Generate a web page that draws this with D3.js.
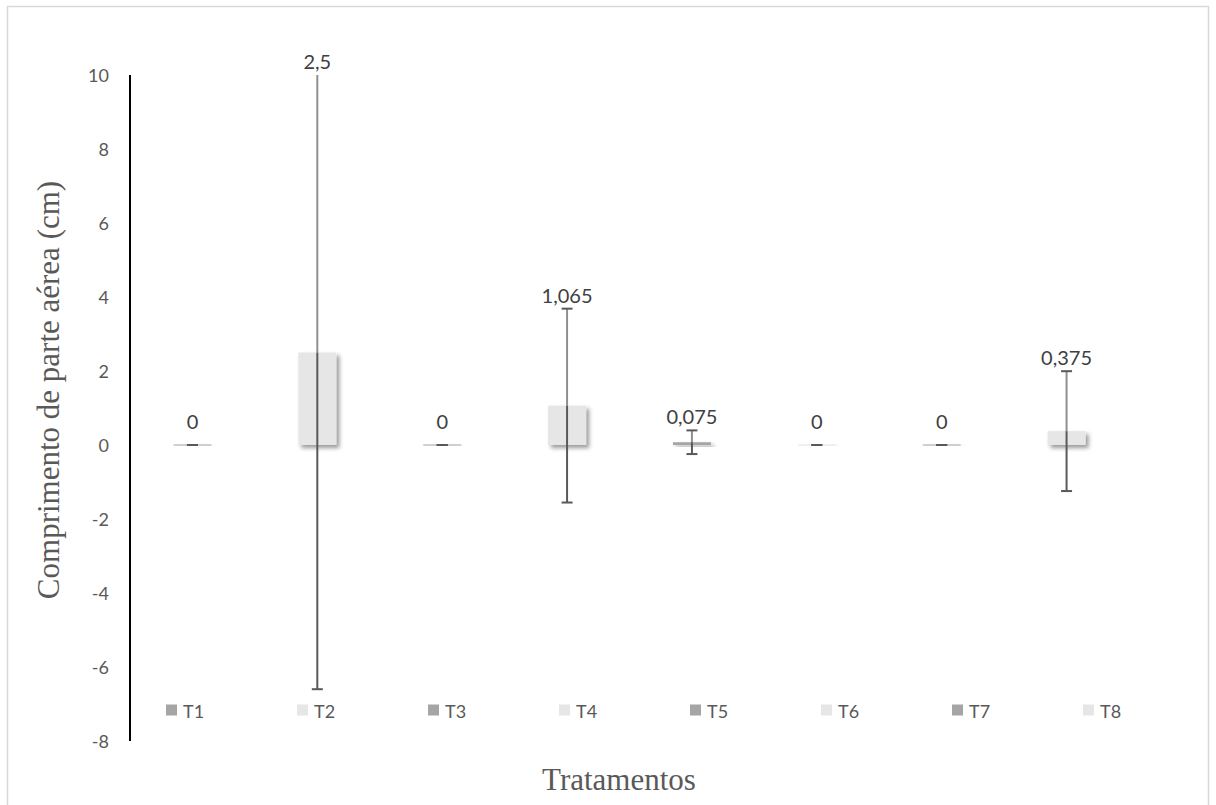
<!DOCTYPE html>
<html><head><meta charset="utf-8">
<script src="https://cdn.jsdelivr.net/npm/d3@7"></script>
<style>body{margin:0;background:#fff}svg{display:block}</style>
</head><body>
<script>
const categories = ["T1","T2","T3","T4","T5","T6","T7","T8"];
const means = [0, 2.5, 0, 1.065, 0.075, 0, 0, 0.375];
const errors = [0, 9.1, 0, 2.62, 0.32, 0, 0, 1.62];
const valueLabels = ["0","2,5","0","1,065","0,075","0","0","0,375"];
const seriesColors = ["#a5a5a5","#e6e6e6","#a5a5a5","#e6e6e6","#a5a5a5","#e6e6e6","#a5a5a5","#e6e6e6"];
const yTicks = [-8,-6,-4,-2,0,2,4,6,8,10];

const W = 1216, H = 805;
const FONT = "Lato, 'Open Sans', sans-serif";
const SERIF = "'Liberation Serif', 'Times New Roman', serif";
const svg = d3.select("body").append("svg").attr("width", W).attr("height", H);
const defs = svg.append("defs");
const f = defs.append("filter").attr("id","sh").attr("x","-50%").attr("y","-50%").attr("width","200%").attr("height","200%");
f.append("feDropShadow").attr("dx",3).attr("dy",3).attr("stdDeviation",2).attr("flood-color","#000").attr("flood-opacity",0.4);

svg.append("rect").attr("x",7.5).attr("y",6.5).attr("width",1201).attr("height",820)
  .attr("fill","#fff").attr("stroke","#d9d9d9").attr("stroke-width",1.5);

const y = d3.scaleLinear().domain([-8,10]).range([741,75]);
const x = d3.scaleBand().domain(categories).range([130,1129]).padding(0);
const barW = 38;
const data = categories.map((c,i)=>({c, v:means[i], e:errors[i], lab:valueLabels[i], col:seriesColors[i]}));

// y axis labels
const ax = svg.append("g").attr("transform","translate(130,0)")
  .call(d3.axisLeft(y).tickValues(yTicks).tickSize(0).tickPadding(21).tickFormat(d => String(d)));
ax.select(".domain").remove();
ax.attr("font-size",null).attr("font-family",null);
ax.selectAll("text").attr("font-family",FONT).attr("font-size",18).attr("fill","#595959").attr("dy","0.36em");

// bars
const cx = d => x(d.c) + x.bandwidth()/2;
svg.append("g").selectAll("rect").data(data).join("rect")
  .attr("x", d => cx(d) - barW/2)
  .attr("y", d => d.v > 0 ? y(d.v) : y(0) - 0.5)
  .attr("width", barW)
  .attr("height", d => Math.max(1, y(0) - y(d.v)))
  .attr("fill", d => d.col)
  .attr("filter","url(#sh)");

// error bars
const eg = svg.append("g");
data.forEach(d => {
  const X = cx(d);
  const topV = d.v + d.e, botV = d.v - d.e;
  const clipTop = topV > 10;
  const yt = y(Math.min(topV, 10)), yb = y(Math.max(botV, -8)), yv = y(d.v);
  if (d.e > 0) {
    eg.append("line").attr("x1",X).attr("x2",X).attr("y1",yt).attr("y2",yv).attr("stroke","#8f8f8f").attr("stroke-width",2);
    eg.append("line").attr("x1",X).attr("x2",X).attr("y1",yv).attr("y2",yb).attr("stroke","#595959").attr("stroke-width",2);
  }
  if (!clipTop) eg.append("line").attr("x1",X-5.5).attr("x2",X+5.5).attr("y1",yt).attr("y2",yt).attr("stroke","#595959").attr("stroke-width",2);
  eg.append("line").attr("x1",X-5.5).attr("x2",X+5.5).attr("y1",yb).attr("y2",yb).attr("stroke","#595959").attr("stroke-width",2);
});

// data labels
svg.append("g").selectAll("text").data(data).join("text")
  .attr("x", d => cx(d))
  .attr("y", d => {
    const barTop = y(Math.max(d.v,0));
    const errTop = y(Math.min(d.v + d.e, 10));
    return Math.min(barTop - 16, errTop - 6);
  })
  .attr("text-anchor","middle")
  .attr("font-family",FONT).attr("font-size",20).attr("fill","#404040")
  .text(d => d.lab);

// axis line
svg.append("line").attr("x1",130).attr("x2",130).attr("y1",y(10)).attr("y2",y(-8)).attr("stroke","#000").attr("stroke-width",2);

// legend
const lx = d3.scalePoint().domain(categories).range([166,1083]);
const lg = svg.append("g").selectAll("g").data(data).join("g").attr("transform", d => `translate(${lx(d.c)},710)`);
lg.append("rect").attr("x",0).attr("y",-5.5).attr("width",11).attr("height",11).attr("fill", d => d.col);
lg.append("text").attr("x",17).attr("y",7.5).attr("font-family",FONT).attr("font-size",18).attr("fill","#595959").text(d => d.c);

// titles
svg.append("text").attr("transform","translate(59,390) rotate(-90)").attr("text-anchor","middle")
  .attr("font-family",SERIF).attr("font-size",31).attr("fill","#595959")
  .text("Comprimento de parte aérea (cm)");
svg.append("text").attr("x",619).attr("y",790).attr("text-anchor","middle")
  .attr("font-family",SERIF).attr("font-size",31).attr("fill","#595959")
  .text("Tratamentos");
</script>
</body></html>
